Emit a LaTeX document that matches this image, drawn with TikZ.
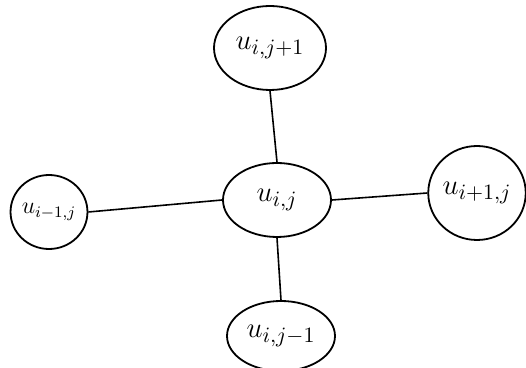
\documentclass[tikz,border=0pt]{standalone}
\usetikzlibrary{shapes.geometric}
\begin{document}
\begin{tikzpicture}[x=0.5pt,y=-0.5pt,
  cell/.style={ellipse,draw,line width=0.9pt,inner sep=0pt,font=\fontsize{15}{18}\selectfont},
  link/.style={line width=0.8pt}]
\useasboundingbox (0,0) rectangle (526,368);
\node[cell,minimum width=56pt,minimum height=42pt] (top) at (270,48) {$u_{i,j+1}$};
\node[cell,minimum width=54pt,minimum height=37pt] (mid) at (277,200) {$u_{i,j}$};
\node[cell,minimum width=36pt,minimum height=37pt,font=\fontsize{11.5}{14}\selectfont] (left) at (49,212) {$u_{i-1,j}$};
\node[cell,minimum width=47pt,minimum height=47pt] (right) at (477,193) {$u_{i+1,j}$};
\node[cell,minimum width=54pt,minimum height=35pt] (bot) at (281,336) {$u_{i,j-1}$};
\draw[link] (top.south) -- (mid.north);
\draw[link] (left.east) -- (mid.west);
\draw[link] (mid.east) -- (right.west);
\draw[link] (mid.south) -- (bot.north);
\end{tikzpicture}
\end{document}
